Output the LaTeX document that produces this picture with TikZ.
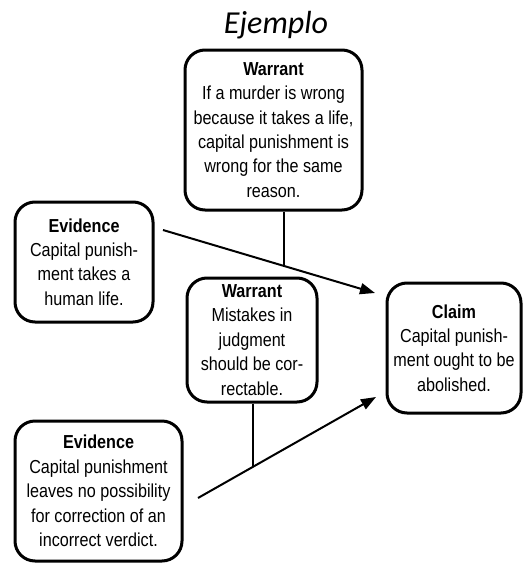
\documentclass[tikz,border=0pt]{standalone}
\usepackage{fontspec}
\setmainfont{Liberation Sans}[FakeStretch=0.86]
\newfontfamily\titlefont{Carlito}
\usetikzlibrary{arrows.meta,calc}
\begin{document}
\begin{tikzpicture}[x=1pt,y=-1pt,
  box/.style={draw, line width=3pt, rounded corners=20pt, align=center, inner sep=0pt,
    font=\fontsize{18.8}{24.4}\selectfont},
  conn/.style={line width=2pt},
  arr/.style={conn, -{Triangle[length=15pt,width=11pt]}},
  ttl/.style={anchor=base, inner sep=0pt, font=\titlefont\itshape\fontsize{32}{34}\selectfont}]
\useasboundingbox (0,0) rectangle (524,563);
\node[ttl] (title) at (276,33) {Ejemplo};
\node[box, minimum width=177pt, minimum height=160pt] (W1) at (273.5,130)
  {\textbf{Warrant}\\If a murder is wrong\\because it takes a life,\\capital punishment is\\wrong for the same\\reason.};
\node[box, minimum width=138pt, minimum height=120pt] (E1) at (84,262)
  {\textbf{Evidence}\\Capital punish-\\ment takes a\\human life.};
\node[box, minimum width=130pt, minimum height=124pt] (W2) at (252,340)
  {\textbf{Warrant}\\Mistakes in\\judgment\\should be cor-\\rectable.};
\node[box, minimum width=134pt, minimum height=130pt] (C) at (454,348)
  {\textbf{Claim}\\Capital punish-\\ment ought to be\\abolished.};
\node[box, minimum width=167pt, minimum height=140pt] (E2) at (98.5,491)
  {\textbf{Evidence}\\Capital punishment\\leaves no possibility\\for correction of an\\incorrect verdict.};
\coordinate (a1s) at (163,230);
\coordinate (a1e) at (375,293);
\draw[arr] (a1s) -- (a1e);
\coordinate (j1) at ($(a1s)!0.5708!(a1e)$);
\draw[conn] (W1.south -| j1) -- (j1);
\coordinate (a2s) at (198,498);
\coordinate (a2e) at (376,397);
\draw[arr] (a2s) -- (a2e);
\coordinate (j2) at ($(a2s)!0.309!(a2e)$);
\draw[conn] (W2.south -| j2) -- (j2);
\end{tikzpicture}
\end{document}
